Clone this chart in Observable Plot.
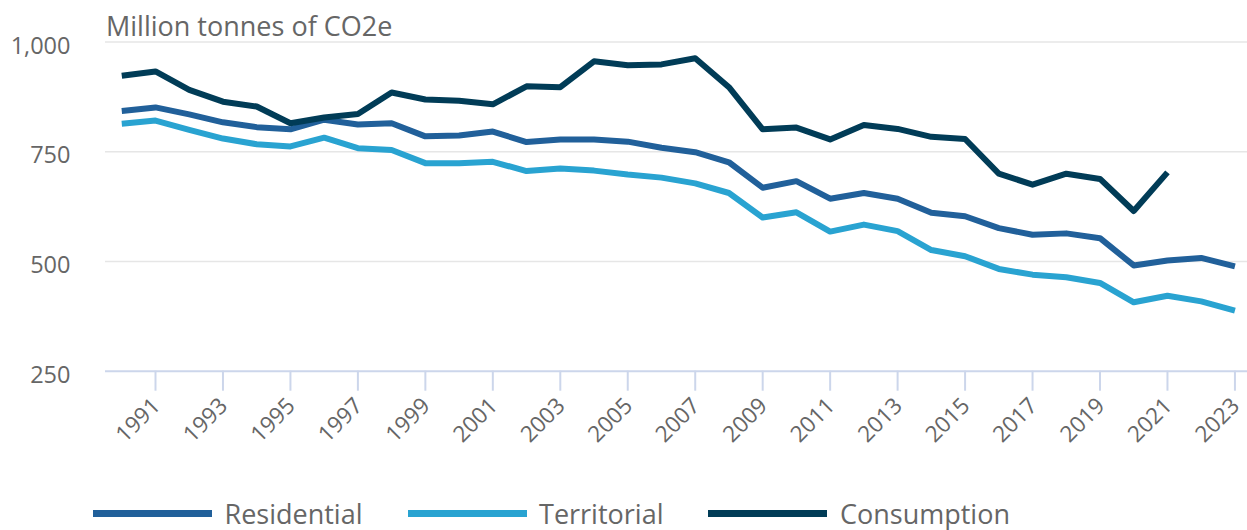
<!DOCTYPE html>
<html>
<head>
<meta charset="utf-8">
<script src="https://cdn.jsdelivr.net/npm/d3@7"></script>
<script src="https://cdn.jsdelivr.net/npm/@observablehq/plot@0.6"></script>
<style>
  body { margin: 0; background: #fff; font-family: "Open Sans", sans-serif; }
  #wrap { position: relative; width: 1247px; height: 530px; overflow: hidden; background: #fff; }
  #chart { position: absolute; left: 0; top: 0; }
  #title { position: absolute; left: 106px; top: 11.5px; font-size: 27px; line-height: 27px; color: #666; white-space: nowrap; }
  #legend { position: absolute; left: 93px; top: 499.5px; display: flex; white-space: nowrap; }
  .item { display: flex; align-items: center; margin-right: 45px; }
  .sym { width: 119px; height: 7px; margin-right: 12.5px; }
  .lab { font-size: 27px; line-height: 27px; color: #666; }
</style>
</head>
<body>
<div id="wrap">
  <div id="chart"></div>
  <div id="title">Million tonnes of CO2e</div>
  <div id="legend"></div>
</div>
<script>
const years = [1990,1991,1992,1993,1994,1995,1996,1997,1998,1999,2000,2001,2002,2003,2004,2005,2006,2007,2008,2009,2010,2011,2012,2013,2014,2015,2016,2017,2018,2019,2020,2021,2022,2023];
const residential = [843,851,835,817,806,801,823,812,815,785,787,796,772,778,778,773,759,749,726,668,683,643,656,643,611,603,576,561,564,553,491,502,508,489];
const territorial = [814,821,800,780,767,762,782,758,754,724,724,727,706,712,707,698,691,678,656,600,612,568,584,569,526,512,483,470,464,451,407,422,409,388];
const consumption = [923,933,891,864,853,815,828,836,885,869,866,858,899,897,956,947,949,963,897,801,805,778,811,802,784,779,700,675,700,688,615,703,null,null];
const seriesNames = ["Residential", "Territorial", "Consumption"];
const seriesColors = ["#21609a", "#29a3d1", "#013c57"];
const yTicks = [250, 500, 750, 1000];
const xTicks = [1991,1993,1995,1997,1999,2001,2003,2005,2007,2009,2011,2013,2015,2017,2019,2021,2023];

const seriesValues = [residential, territorial, consumption];
const table = seriesNames.flatMap((name, i) =>
  years.map((year, j) => ({series: name, year, value: seriesValues[i][j]}))
);

const chart = Plot.plot({
  width: 1247,
  height: 480,
  marginLeft: 105,
  marginRight: 0,
  marginTop: 41.5,
  marginBottom: 109.3,
  style: {fontFamily: "Open Sans", background: "#fff", overflow: "hidden"},
  x: {type: "linear", domain: [1989.5, 2023.5], range: [104.4, 1251.3]},
  y: {domain: [250, 1000]},
  color: {domain: seriesNames, range: seriesColors},
  marks: [
    Plot.gridY(yTicks.filter(d => d !== 250), {stroke: "#e6e6e6", strokeOpacity: 1, strokeWidth: 1.5}),
    Plot.ruleY([250], {stroke: "#ccd6eb", strokeWidth: 2}),
    Plot.axisX({ticks: xTicks, tickSize: 20, tickFormat: () => "", stroke: "#ccd6eb", strokeWidth: 2, strokeOpacity: 1, label: null}),
    Plot.text(xTicks, {x: d => d, frameAnchor: "bottom", text: d => String(d), rotate: -45, textAnchor: "end", lineAnchor: "bottom", dx: 6, dy: 36, fontSize: 22.5, fill: "#666"}),
    Plot.axisY({ticks: yTicks, tickSize: 0, tickPadding: 35, tickFormat: d3.format(","), fontSize: 23.5, fill: "#666", dy: 4, label: null}),
    Plot.lineY(table, {x: "year", y: "value", z: "series", stroke: "series", strokeWidth: 6, strokeLinejoin: "round", strokeLinecap: "butt"})
  ]
});
document.getElementById("chart").appendChild(chart);

const legend = document.getElementById("legend");
seriesNames.forEach((name, i) => {
  const item = document.createElement("div");
  item.className = "item";
  const sym = document.createElement("div");
  sym.className = "sym";
  sym.style.background = seriesColors[i];
  const lab = document.createElement("div");
  lab.className = "lab";
  lab.textContent = name;
  item.appendChild(sym);
  item.appendChild(lab);
  legend.appendChild(item);
});
</script>
</body>
</html>
